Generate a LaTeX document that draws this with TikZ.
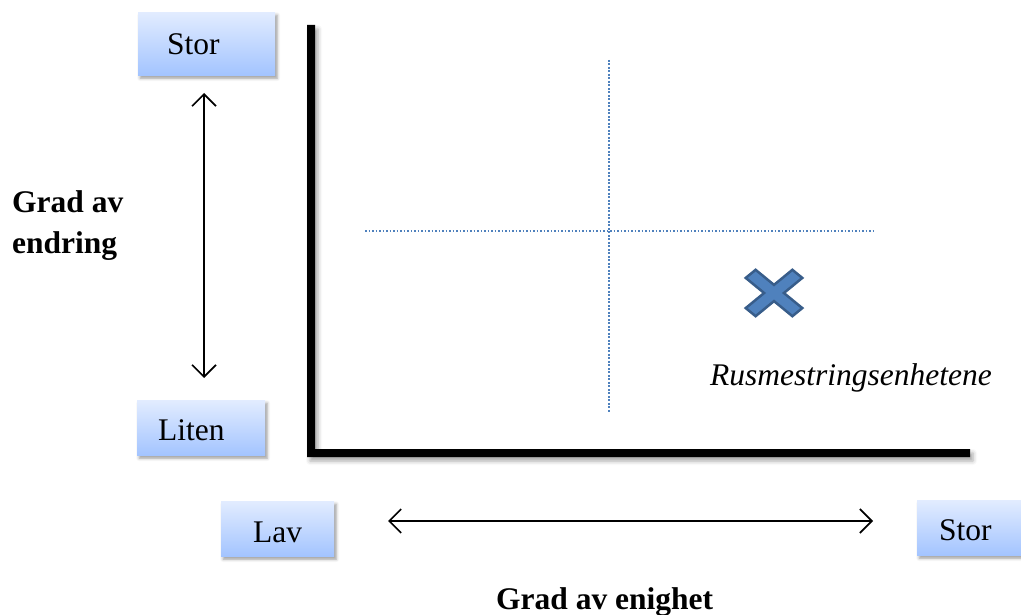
\documentclass[tikz,border=0pt]{standalone}
\usepackage{fontspec}
\setmainfont{Liberation Serif}
\usetikzlibrary{arrows.meta,shadows.blur}
\definecolor{dotblue}{RGB}{79,129,189}
\definecolor{xfill}{RGB}{79,129,189}
\definecolor{xline}{RGB}{56,93,138}
\definecolor{boxtop}{RGB}{226,236,255}
\definecolor{boxbot}{RGB}{163,196,255}
\tikzset{
  lbox/.style={draw=none, inner sep=0pt, anchor=north west,
    top color=boxtop, bottom color=boxbot,
    blur shadow={shadow xshift=2pt, shadow yshift=-3pt, shadow blur radius=3pt, shadow opacity=40}},
  lbl/.style={inner sep=0pt, anchor=base west, font=\fontsize{31.5}{36}\selectfont},
  blbl/.style={lbl, font=\fontsize{31.5}{36}\selectfont\bfseries},
  ilbl/.style={lbl, font=\fontsize{31.5}{36}\selectfont\itshape},
  dotline/.style={dotblue, line width=1.8pt, dash pattern=on 1.8pt off 1.7pt},
  dblarrow/.style={black, line width=1.6pt,
    {Straight Barb[length=12pt,width=24pt]}-{Straight Barb[length=12pt,width=24pt]}},
  axis/.style={fill=black, blur shadow={shadow xshift=3pt, shadow yshift=-4pt, shadow blur radius=4pt, shadow opacity=35}},
  xmark/.style={fill=xfill, draw=xline, line width=2.5pt, line join=miter}
}
\begin{document}
\begin{tikzpicture}[x=1pt,y=-1pt]
\useasboundingbox (0,0) rectangle (1021,615);

% axes
\path[axis] (307,25) -- (315,25) -- (315,449) -- (970,449) -- (970,457) -- (307,457) -- cycle;

% dotted quadrant lines
\coordinate (vtop) at (609,60);
\coordinate (vbot) at (609,413);
\coordinate (hleft) at (365,231);
\coordinate (hright) at (875,231);
\draw[dotline] (vtop) -- (vbot);
\draw[dotline] (hleft) -- (hright);

% boxes
\node[lbox, minimum width=137pt, minimum height=63pt] (storTopBox) at (138,12) {};
\node[lbl] (storTop) at (167,55) {Stor};
\node[lbox, minimum width=128pt, minimum height=55pt] (litenBox) at (137,400) {};
\node[lbl] (liten) at (158,440) {Liten};
\node[lbox, minimum width=113pt, minimum height=55pt] (lavBox) at (221,501) {};
\node[lbl] (lav) at (253,542) {Lav};
\node[lbox, minimum width=104pt, minimum height=55pt] (storBotBox) at (917,500) {};
\node[lbl] (storBot) at (939,540) {Stor};

% arrows
\coordinate (va1) at (204,93);
\coordinate (va2) at (204,378);
\draw[dblarrow] (va1) -- (va2);
\coordinate (ha1) at (388,521);
\coordinate (ha2) at (873,521);
\draw[dblarrow] (ha1) -- (ha2);

% labels
\node[blbl] (gradAv) at (12,213) {Grad av};
\node[blbl] (endring) at (12,253) {endring};
\node[blbl] (enighet) at (496,609) {Grad av enighet};
\node[ilbl] (rus) at (710,385) {Rusmestringsenhetene};

% cross mark
\begin{scope}[shift={(774,293)}, yscale=0.82, rotate=45]
\path[xmark] (7,33) -- (7,7) -- (33,7) -- (33,-7) -- (7,-7) -- (7,-33)
  -- (-7,-33) -- (-7,-7) -- (-33,-7) -- (-33,7) -- (-7,7) -- (-7,33) -- cycle;
\end{scope}
\end{tikzpicture}
\end{document}
